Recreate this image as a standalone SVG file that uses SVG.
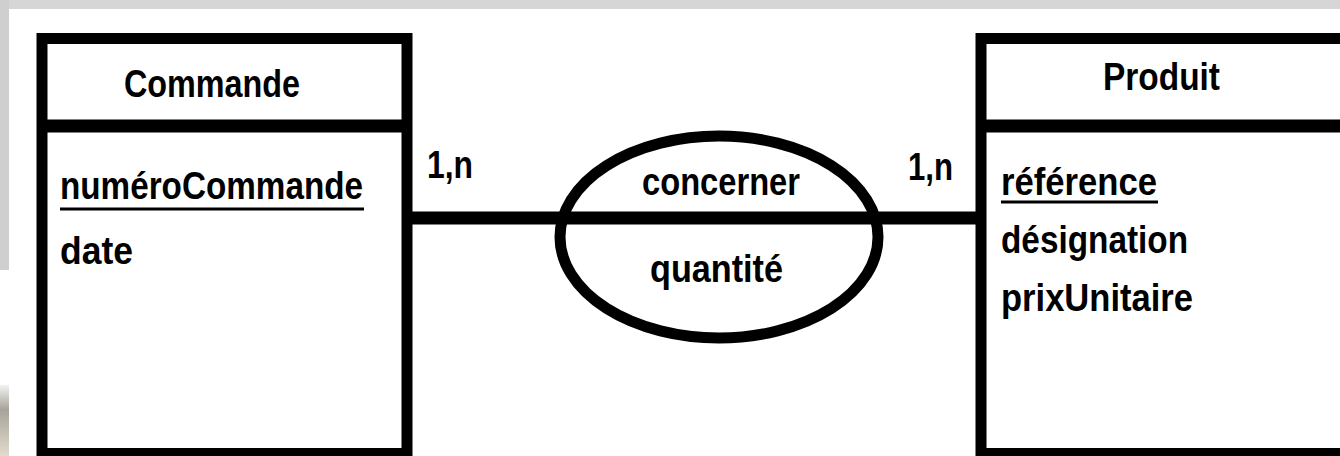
<svg xmlns="http://www.w3.org/2000/svg" width="1340" height="456" viewBox="0 0 1340 456">
<defs>
<style>
.box{fill:#fff;stroke:#000;stroke-width:11}
.div{stroke:#000;stroke-width:13}
.t{font-family:"Liberation Sans",Arial,sans-serif;font-weight:bold;font-size:39px;fill:#000}
.u{stroke:#000;stroke-width:3}
</style>
<linearGradient id="bg" x1="0" y1="0" x2="0" y2="1">
<stop offset="0" stop-color="#f2f2f2"/>
<stop offset="0.35" stop-color="#a8a398"/>
<stop offset="1" stop-color="#e2dccf"/>
</linearGradient>
</defs>
<rect x="0" y="0" width="1340" height="456" fill="#fff"/>
<rect x="0" y="0" width="1340" height="9" fill="#d6d6d6"/>
<rect x="0" y="0" width="9" height="270" fill="#cfcfcf"/>
<rect x="0" y="385" width="9" height="71" fill="url(#bg)"/>
<g id="connectors">
<line x1="407" y1="218" x2="981" y2="218" stroke="#000" stroke-width="13"/>
</g>
<g id="commande">
<rect class="box" x="42" y="38.5" width="365" height="415"/>
<line class="div" x1="42" y1="126" x2="407" y2="126"/>
<text class="t" x="124" y="97" textLength="176" lengthAdjust="spacingAndGlyphs">Commande</text>
<text class="t" x="60" y="199" textLength="303" lengthAdjust="spacingAndGlyphs">numéroCommande</text>
<line class="u" x1="60" y1="209" x2="364" y2="209"/>
<text class="t" x="60" y="264" textLength="73" lengthAdjust="spacingAndGlyphs">date</text>
</g>
<g id="produit">
<rect class="box" x="981" y="38.5" width="400" height="415"/>
<line class="div" x1="981" y1="126" x2="1345" y2="126"/>
<text class="t" x="1103" y="90" textLength="117" lengthAdjust="spacingAndGlyphs">Produit</text>
<text class="t" x="1001" y="195" textLength="156" lengthAdjust="spacingAndGlyphs">référence</text>
<line class="u" x1="1001" y1="202" x2="1158" y2="202"/>
<text class="t" x="1001" y="253" textLength="187" lengthAdjust="spacingAndGlyphs">désignation</text>
<text class="t" x="1001" y="311" textLength="192" lengthAdjust="spacingAndGlyphs">prixUnitaire</text>
</g>
<g id="concerner">
<ellipse cx="719" cy="237" rx="159" ry="101" fill="none" stroke="#000" stroke-width="11"/>
<text class="t" x="642" y="195" textLength="158" lengthAdjust="spacingAndGlyphs">concerner</text>
<text class="t" x="650" y="282" textLength="133" lengthAdjust="spacingAndGlyphs">quantité</text>
</g>
<g id="cardinalities">
<text class="t" x="427" y="178" textLength="46" lengthAdjust="spacingAndGlyphs">1,n</text>
<text class="t" x="908" y="180" textLength="45" lengthAdjust="spacingAndGlyphs">1,n</text>
</g>
</svg>
